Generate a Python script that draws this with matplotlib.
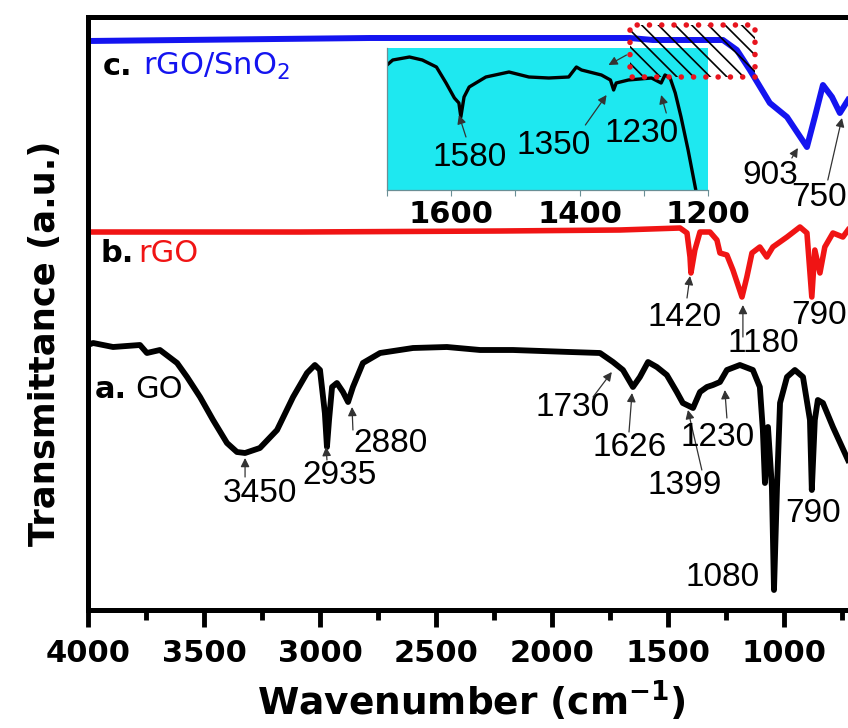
import matplotlib.pyplot as plt
from matplotlib import font_manager
from matplotlib.patches import Rectangle
from matplotlib.ticker import MultipleLocator

plt.rcParams['font.family'] = ['DejaVu Sans']
plt.rcParams['mathtext.fontset'] = 'dejavusans'
plt.rcParams['hatch.linewidth'] = 1.2

# peak numbers in the figure use a narrow sans face
installed = {f.name for f in font_manager.fontManager.ttflist}
if 'Liberation Sans Narrow' in installed:
    peak_font, peak_size = 'Liberation Sans Narrow', 27
else:
    peak_font, peak_size = 'Liberation Sans', 24

# FTIR spectra: wavenumber (cm-1) and transmittance (a.u., stacked)
go_wn = [4000, 3978, 3892, 3776, 3746, 3690, 3616, 3573, 3517, 3461, 3401, 3358, 3323,
         3259, 3185, 3116, 3056, 3022, 3000, 2979, 2970, 2961, 2948, 2927, 2901, 2879,
         2858, 2815, 2741, 2599, 2453, 2310, 2168, 1923, 1793, 1737, 1694, 1651, 1621,
         1586, 1548, 1505, 1462, 1436, 1392, 1362, 1332, 1306, 1276, 1246, 1190, 1134,
         1104, 1091, 1082, 1069, 1052, 1043, 1030, 1017, 987, 953, 918, 888, 880, 867,
         854, 832, 789, 724]
go_t = [265, 267, 263, 265, 257, 260, 247, 233, 213, 190, 167, 158, 157,
        162, 180, 213, 237, 245, 240, 197, 163, 190, 223, 227, 218, 208,
        223, 247, 257, 262, 263, 260, 260, 258, 257, 248, 240, 223, 233,
        248, 243, 235, 218, 207, 202, 218, 223, 225, 228, 240, 245, 240,
        223, 180, 127, 183, 123, 20, 123, 207, 233, 240, 233, 190, 120, 190,
        210, 207, 183, 150]

rgo_wn = [4000, 3086, 2224, 1707, 1448, 1418, 1405, 1401, 1384, 1362, 1319, 1289, 1276,
          1246, 1220, 1181, 1160, 1138, 1104, 1074, 1048, 987, 931, 901, 880, 867, 845,
          824, 789, 746, 724]
rgo_t = [378, 378, 379, 380, 382, 377, 353, 337, 360, 378, 378, 370, 357,
         355, 340, 313, 333, 357, 363, 353, 363, 373, 383, 377, 313, 360, 337,
         363, 377, 373, 380]

sno2_wn = [4000, 2785, 1664, 1565, 1263, 1203, 1147, 1061, 987, 901, 867, 832, 793, 759, 724]
sno2_t = [569, 572, 572, 570, 570, 560, 540, 507, 493, 463, 493, 525, 513, 497, 510]

# inset: zoom of rGO/SnO2 between 1700 and 1200 cm-1
inset_wn = [1700, 1691, 1665, 1645, 1623, 1608, 1595, 1588, 1585, 1580, 1572, 1546, 1510,
            1479, 1448, 1417, 1405, 1397, 1366, 1352, 1347, 1343, 1324, 1288, 1273, 1267,
            1259, 1251, 1242, 1231, 1219]
inset_t = [125, 130, 133, 130, 123, 107, 92, 87, 73, 93, 103, 113, 118,
           113, 112, 113, 123, 120, 115, 110, 100, 107, 110, 112, 107, 115,
           112, 97, 73, 40, 0]

# peak labels: (text, label position, arrow tail, arrow tip) -- None = no arrow
main_peaks = [
    ('3450', (3259, 117), (3323, 133), (3323, 152)),
    ('2935', (2914, 135), (2970, 150), (2974, 163)),
    ('2880', (2698, 167), (2858, 180), (2862, 203)),
    ('1730', (1910, 202), (1823, 213), (1742, 238)),
    ('1626', (1664, 163), (1668, 178), (1655, 217)),
    ('1399', (1427, 125), (1354, 140), (1414, 200)),
    ('1230', (1285, 173), (1246, 192), (1255, 220)),
    ('1080', (1263, 32), None, None),
    ('790', (875, 97), None, None),
    ('1420', (1427, 293), (1418, 312), (1405, 334)),
    ('1180', (1091, 267), (1177, 273), (1177, 305)),
    ('790', (849, 295), None, None),
    ('903', (1061, 435), (966, 452), (940, 462)),
    ('750', (849, 412), (811, 430), (750, 492)),
]
inset_peaks = [
    ('1580', (1572, 32), (1577, 53), (1588, 75)),
    ('1350', (1440, 45), (1391, 65), (1358, 95)),
    ('1230', (1304, 57), (1265, 77), (1273, 95)),
]

fig = plt.figure(figsize=(8.48, 7.28), dpi=100)
ax = fig.add_axes([88 / 848, 118 / 728, 760 / 848, 593 / 728])

ax.plot(go_wn, go_t, color='black', lw=4.2, solid_joinstyle='round')
ax.plot(rgo_wn, rgo_t, color='#f01414', lw=4, solid_joinstyle='round')
ax.plot(sno2_wn, sno2_t, color='#1414f0', lw=4.3, solid_joinstyle='round')

ax.set_xlim(4000, 724)
ax.set_ylim(0, 593)
ax.xaxis.set_major_locator(MultipleLocator(500))
ax.xaxis.set_minor_locator(MultipleLocator(250))
ax.set_yticks([])
ax.tick_params(axis='x', which='major', direction='out', length=12, width=3.5, pad=9,
               labelsize=22)
ax.tick_params(axis='x', which='minor', direction='out', length=7, width=3.5)
for lbl in ax.get_xticklabels():
    lbl.set_fontweight('bold')
for side in ['left', 'bottom', 'top']:
    ax.spines[side].set_linewidth(3.6)
ax.spines['right'].set_visible(False)

ax.set_xlabel(r'Wavenumber (cm$^{\mathbf{-1}}$)', fontsize=27, fontweight='bold')
ax.xaxis.label.set_va('baseline')
ax.xaxis.set_label_coords(0.505, -0.177)
ax.set_ylabel('Transmittance (a.u.)', fontsize=25.5, fontweight='bold')
ax.yaxis.label.set_va('baseline')
ax.yaxis.set_label_coords(-0.043, 0.45)

# curve names
ax.text(3935, 535, 'c.', fontsize=22, fontweight='bold')
ax.text(3763, 535, 'rGO/SnO$_2$', fontsize=22, color='#1414f0')
ax.text(3948, 348, 'b.', fontsize=22, fontweight='bold')
ax.text(3784, 348, 'rGO', fontsize=22, color='#f01414')
ax.text(3970, 212, 'a.', fontsize=22, fontweight='bold')
ax.text(3797, 212, 'GO', fontsize=22, color='black')

arrow_kw = dict(arrowstyle='-|>', color='0.2', lw=0.9, mutation_scale=13,
                shrinkA=0, shrinkB=0)
for label, pos, tail, tip in main_peaks:
    ax.text(pos[0], pos[1], label, fontsize=peak_size, family=peak_font,
            ha='center', va='center', clip_on=False)
    if tail is not None:
        ax.annotate('', xy=tip, xytext=tail, arrowprops=arrow_kw)

# inset
ax_in = fig.add_axes([387 / 848, (728 - 190) / 728, 321 / 848, 142 / 728])
ax_in.set_facecolor('#1ee8f0')
ax_in.plot(inset_wn, inset_t, color='black', lw=2.4)
ax_in.set_xlim(1700, 1200)
ax_in.set_ylim(0, 142)
ax_in.set_yticks([])
ax_in.set_xticks([1600, 1400, 1200])
ax_in.set_xticks([1700, 1500, 1300], minor=True)
ax_in.tick_params(axis='x', which='both', direction='out', length=4, width=0.8,
                  color='#6a8f95', pad=3, labelsize=22)
for lbl in ax_in.get_xticklabels():
    lbl.set_fontweight('bold')
for side in ['top', 'right']:
    ax_in.spines[side].set_visible(False)
for side in ['left', 'bottom']:
    ax_in.spines[side].set_linewidth(0.9)
    ax_in.spines[side].set_color('#6a8f95')
for label, pos, tail, tip in inset_peaks:
    ax_in.text(pos[0], pos[1], label, fontsize=peak_size, family=peak_font,
               ha='center', va='center', clip_on=False)
    ax_in.annotate('', xy=tip, xytext=tail, arrowprops=arrow_kw, annotation_clip=False)
ax_in.annotate('', xy=(1355, 125), xytext=(1327, 135), arrowprops=arrow_kw,
               annotation_clip=False)

# hatched, red-dotted box marking the zoomed region on curve c
fig.add_artist(Rectangle((1125, 533), 539, 52, transform=ax.transData, facecolor='none',
                         edgecolor='black', lw=0, hatch='\\\\'))
fig.add_artist(Rectangle((1125, 533), 539, 52, transform=ax.transData, facecolor='none',
                         edgecolor='#e8141e', lw=4, linestyle=(0, (0.01, 2.2)),
                         capstyle='round'))

fig.savefig('out.png', dpi=100)
